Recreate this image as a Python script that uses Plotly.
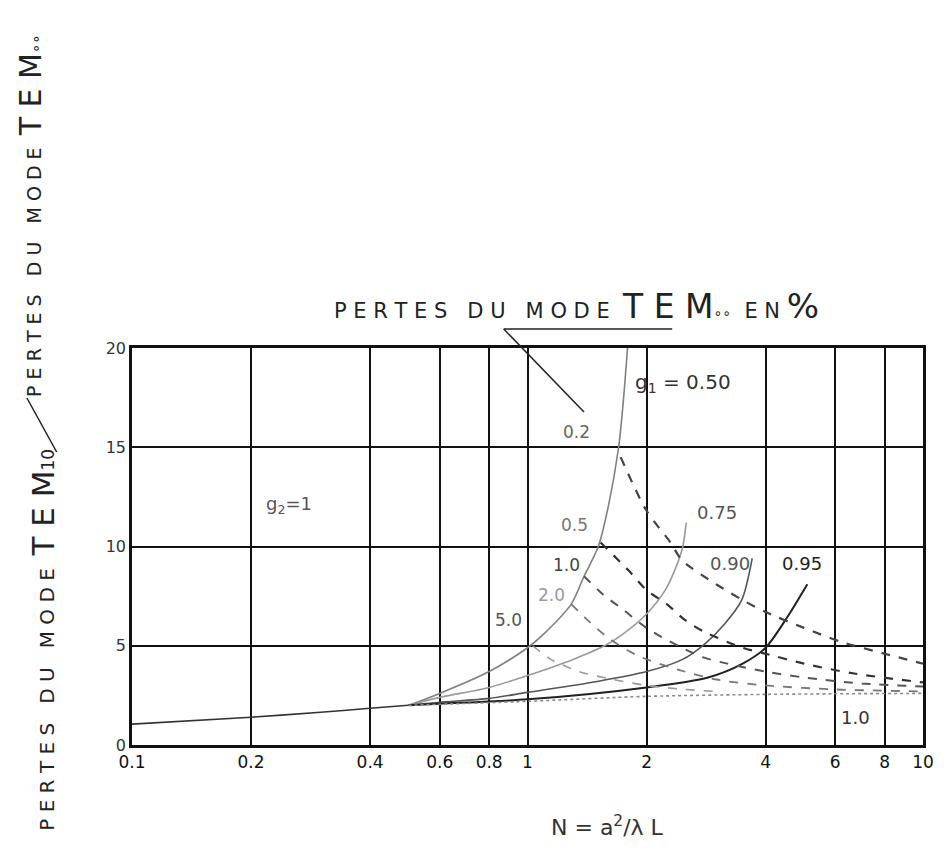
import plotly.graph_objects as go

# ---------------- data ----------------
# common low-N part shared by all g1 curves
common_x = [0.1, 0.2, 0.3, 0.4, 0.5]
common_y = [1.05, 1.4, 1.65, 1.85, 2.0]

g1_050_x = [0.5, 0.6, 0.8, 1.0, 1.1, 1.29, 1.39, 1.51, 1.6, 1.70, 1.75, 1.79]
g1_050_y = [2.0, 2.6, 3.7, 4.9, 5.6, 7.1, 8.5, 10.0, 12.0, 15.0, 17.5, 20.0]

g1_075_x = [0.5, 0.6, 0.8, 1.0, 1.3, 1.6, 1.8, 2.0, 2.23, 2.4, 2.47, 2.52]
g1_075_y = [2.0, 2.4, 2.9, 3.5, 4.3, 5.1, 5.8, 6.6, 7.8, 9.2, 10.0, 11.2]

g1_090_x = [0.5, 0.6, 0.8, 1.0, 1.5, 2.0, 2.46, 2.81, 3.15, 3.48, 3.70]
g1_090_y = [2.0, 2.15, 2.35, 2.65, 3.2, 3.7, 4.3, 5.1, 6.1, 7.3, 9.4]

g1_095_x = [0.5, 0.6, 1.0, 2.0, 2.86, 3.5, 4.0, 4.54, 5.1]
g1_095_y = [2.0, 2.08, 2.3, 2.9, 3.4, 4.1, 4.9, 6.45, 8.1]

g1_100_x = [0.5, 0.6, 1.0, 2.0, 4.0, 6.0, 10.0]
g1_100_y = [2.0, 2.05, 2.2, 2.45, 2.55, 2.58, 2.6]

# constant-loss contours (losses of TEM00 in %)
loss_02_x = [1.72, 2.0, 2.3, 2.46, 3.0, 3.5, 4.0, 5.0, 6.2, 8.0, 10.0]
loss_02_y = [14.5, 11.8, 10.2, 9.3, 8.1, 7.3, 6.7, 5.9, 5.2, 4.6, 4.1]

loss_05_x = [1.53, 1.8, 2.0, 2.25, 2.5, 2.8, 3.5, 4.0, 5.0, 6.7, 10.0]
loss_05_y = [10.2, 8.8, 7.8, 7.1, 6.3, 5.7, 4.9, 4.6, 4.1, 3.6, 3.15]

loss_10_x = [1.39, 1.55, 1.75, 2.0, 2.4, 2.8, 3.2, 4.0, 5.0, 7.0, 10.0]
loss_10_y = [8.5, 7.6, 6.8, 5.9, 5.0, 4.4, 4.1, 3.7, 3.4, 3.1, 2.95]

loss_20_x = [1.29, 1.4, 1.6, 1.9, 2.4, 3.0, 4.0, 6.0, 10.0]
loss_20_y = [7.1, 6.4, 5.4, 4.5, 3.8, 3.3, 3.0, 2.8, 2.7]

loss_50_x = [1.03, 1.15, 1.35, 1.6, 2.0, 2.5, 3.0]
loss_50_y = [5.0, 4.3, 3.7, 3.35, 3.0, 2.8, 2.7]

x_ticks = [0.1, 0.2, 0.4, 0.6, 0.8, 1, 2, 4, 6, 8, 10]
x_tick_text = ["0.1", "0.2", "0.4", "0.6", "0.8", "1", "2", "4", "6", "8", "10"]
y_ticks = [0, 5, 10, 15, 20]
y_tick_text = ["0", "5", "10", "15", "20"]

# ---------------- figure ----------------
FONT = "DejaVu Sans"
W, H = 946, 858
pl, pr, pt, pb = 132, 930, 348, 745

fig = go.Figure()

def add(x, y, color, width, dash="solid"):
    fig.add_trace(go.Scatter(x=x, y=y, mode="lines",
                             line=dict(color=color, width=width, dash=dash, shape="spline", smoothing=0.8),
                             showlegend=False, hoverinfo="skip"))

add(common_x, common_y, "#333333", 1.6)
add(g1_050_x, g1_050_y, "#808080", 1.6)
add(g1_075_x, g1_075_y, "#9a9a9a", 1.6)
add(g1_090_x, g1_090_y, "#555555", 1.6)
add(g1_095_x, g1_095_y, "#222222", 2.0)
add(g1_100_x, g1_100_y, "#8a8a8a", 1.6, "dot")

add(loss_02_x, loss_02_y, "#444444", 2.2, "dash")
add(loss_05_x, loss_05_y, "#333333", 2.2, "dash")
add(loss_10_x, loss_10_y, "#555555", 2.0, "dash")
add(loss_20_x, loss_20_y, "#777777", 1.8, "dash")
add(loss_50_x, loss_50_y, "#999999", 1.6, "dash")

fig.update_xaxes(type="log", range=[-1, 1], tickvals=x_ticks, ticktext=x_tick_text,
                 showgrid=True, gridcolor="#111111", gridwidth=1.6,
                 showline=True, linecolor="#111111", linewidth=2.5, mirror=True,
                 ticks="", zeroline=False,
                 tickfont=dict(family=FONT, size=17, color="#111111"))
fig.update_yaxes(range=[0, 20], tickvals=y_ticks, ticktext=y_tick_text,
                 showgrid=True, gridcolor="#111111", gridwidth=1.6,
                 showline=True, linecolor="#111111", linewidth=2.5, mirror=True,
                 ticks="", zeroline=False,
                 tickfont=dict(family=FONT, size=16, color="#333333"))

fig.update_layout(
    width=W, height=H,
    margin=dict(l=pl, r=W - pr, t=pt, b=H - pb),
    paper_bgcolor="white", plot_bgcolor="white",
)

def paper(xp, yp):
    return (xp - pl) / (pr - pl), (pb - yp) / (pb - pt)

def ptext(xp, yp, s, size, color="#222222", angle=0):
    x, y = paper(xp, yp)
    fig.add_annotation(x=x, y=y, xref="paper", yref="paper", text=s, showarrow=False, textangle=angle,
                       font=dict(family=FONT, size=size, color=color), xanchor="center", yanchor="middle")

def spaced(word):
    return "&nbsp;".join(word)

def words(*ws):
    return "&nbsp;&nbsp;&nbsp;".join(spaced(w) for w in ws)

# labels inside the plot
ptext(688, 383, "g<sub>1</sub> = 0.50", 20, "#333333")
ptext(580, 432, "0.2", 17, "#666666")
ptext(578, 525, "0.5", 17, "#777777")
ptext(570, 565, "1.0", 17, "#444444")
ptext(555, 595, "2.0", 17, "#999999")
ptext(512, 620, "5.0", 17, "#555555")
ptext(722, 512, "0.75", 18, "#555555")
ptext(735, 563, "0.90", 18, "#555555")
ptext(808, 563, "0.95", 18, "#222222")
ptext(862, 717, "1.0", 18, "#333333")
ptext(290, 505, "g<sub>2</sub>=1", 18, "#555555")

# titles
top = (words("PERTES", "DU", "MODE") + "&nbsp;&nbsp;<span style='font-size:33px'>" + spaced("TEM") +
       "</span><span style='font-size:14px'>∘∘</span>&nbsp;&nbsp;" + spaced("EN") +
       "&nbsp;<span style='font-size:34px'>%</span>")
ptext(580, 306, top, 21, "#222222")
ptext(612, 826, "N = a<sup>2</sup>/λ L", 22, "#333333")

low = (words("PERTES", "DU", "MODE") + "&nbsp;&nbsp;<span style='font-size:31px'>" + spaced("TEM") +
       "</span><span style='font-size:17px'>10</span>")
ptext(42, 640, low, 20, "#222222", -90)
upp = (words("PERTES", "DU", "MODE") + "&nbsp;&nbsp;<span style='font-size:30px'>" + spaced("TEM") +
       "</span><span style='font-size:15px'>∘∘</span>")
ptext(30, 215, upp, 19, "#222222", -90)

# leader line and slash
def pline(x0, y0, x1, y1, w=1.5, color="#222222"):
    a, b = paper(x0, y0)
    c, d = paper(x1, y1)
    fig.add_shape(type="line", xref="paper", yref="paper", x0=a, y0=b, x1=c, y1=d,
                  line=dict(color=color, width=w))

pline(507, 329, 677, 329, 1.5)
pline(507, 329, 588, 412, 1.5)
pline(56, 452, 26, 398, 1.5)

fig.write_html("out.html")
